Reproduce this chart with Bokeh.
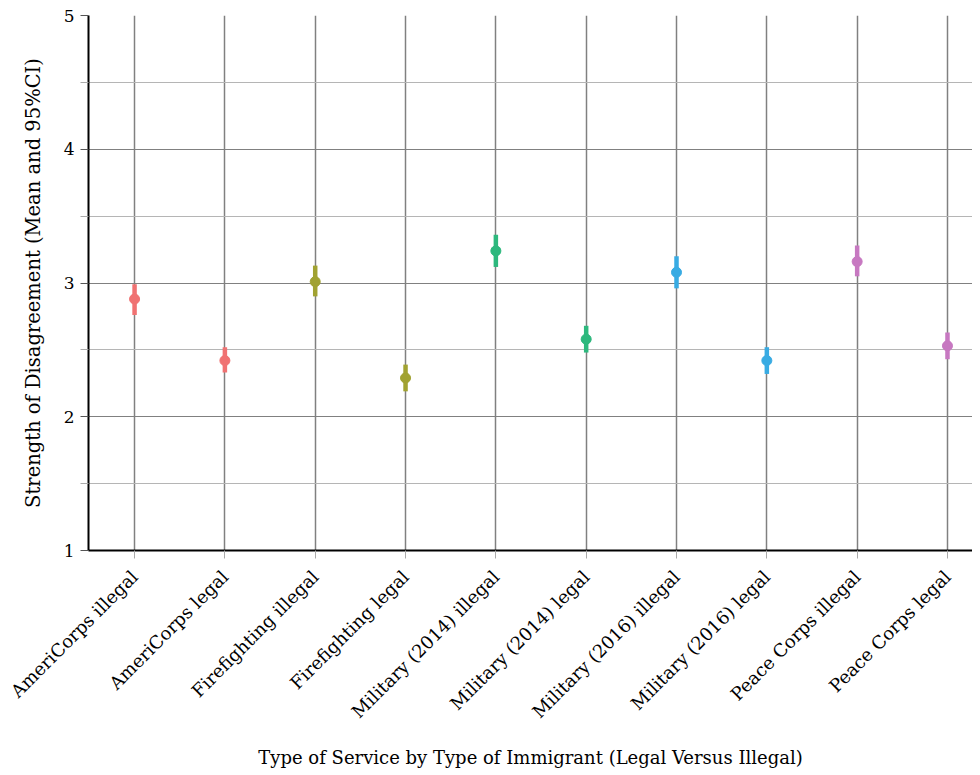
import math
from bokeh.plotting import figure
from bokeh.models import Range1d, FixedTicker, ColumnDataSource
from bokeh.embed import file_html
from bokeh.resources import INLINE

categories = ["AmeriCorps illegal", "AmeriCorps legal", "Firefighting illegal", "Firefighting legal",
              "Military (2014) illegal", "Military (2014) legal", "Military (2016) illegal",
              "Military (2016) legal", "Peace Corps illegal", "Peace Corps legal"]
means = [2.88, 2.42, 3.01, 2.29, 3.24, 2.58, 3.08, 2.42, 3.16, 2.53]
lower = [2.76, 2.33, 2.90, 2.19, 3.12, 2.48, 2.96, 2.32, 3.05, 2.43]
upper = [2.99, 2.52, 3.13, 2.39, 3.36, 2.68, 3.20, 2.52, 3.28, 2.63]
colors = ["#F07272", "#F07272", "#A1A231", "#A1A231", "#2DB87D", "#2DB87D",
          "#38ABE3", "#38ABE3", "#C778C1", "#C778C1"]
y_major = [1, 2, 3, 4, 5]
y_minor = [1.5, 2.5, 3.5, 4.5]

FONT = "DejaVu Serif"
xs = list(range(len(categories)))
src = ColumnDataSource(dict(x=xs, m=means, lo=lower, hi=upper, c=colors))

p = figure(width=972, height=770, output_backend="svg", toolbar_location=None,
           x_range=Range1d(-0.51, 9.277), y_range=Range1d(1, 5))
p.min_border_left = 88
p.min_border_top = 15
p.min_border_right = 0
p.min_border_bottom = 220
p.outline_line_color = None

p.segment(x0="x", y0="lo", x1="x", y1="hi", line_color="c", line_width=4.5, source=src)
p.scatter(x="x", y="m", size=10, marker="circle", fill_color="c", line_color="c", source=src)

# y axis
p.yaxis.ticker = FixedTicker(ticks=y_major, minor_ticks=y_minor)
p.yaxis.axis_line_color = "black"
p.yaxis.axis_line_width = 2
p.yaxis.major_tick_in = 0
p.yaxis.major_tick_out = 8
p.yaxis.major_tick_line_color = "#555555"
p.yaxis.minor_tick_in = 0
p.yaxis.minor_tick_out = 8
p.yaxis.minor_tick_line_color = "#aaaaaa"
p.yaxis.major_label_text_font = FONT
p.yaxis.major_label_text_font_size = "17px"
p.yaxis.major_label_text_color = "black"
p.yaxis.major_label_standoff = 6
p.yaxis.axis_label = "Strength of Disagreement (Mean and 95%CI)"
p.yaxis.axis_label_text_font = FONT
p.yaxis.axis_label_text_font_size = "19.5px"
p.yaxis.axis_label_text_font_style = "normal"
p.yaxis.axis_label_text_color = "black"
p.yaxis.axis_label_standoff = 16

# x axis
p.xaxis.ticker = FixedTicker(ticks=xs)
p.xaxis.major_label_overrides = {i: c for i, c in enumerate(categories)}
p.xaxis.major_label_orientation = math.pi / 4
p.xaxis.axis_line_color = "black"
p.xaxis.axis_line_width = 2
p.xaxis.major_tick_in = 0
p.xaxis.major_tick_out = 8
p.xaxis.major_tick_line_color = "#aaaaaa"
p.xaxis.minor_tick_line_color = None
p.xaxis.major_label_text_font = FONT
p.xaxis.major_label_text_font_size = "18px"
p.xaxis.major_label_text_color = "black"
p.xaxis.major_label_standoff = 15
p.xaxis.axis_label = "Type of Service by Type of Immigrant (Legal Versus Illegal)"
p.xaxis.axis_label_text_font = FONT
p.xaxis.axis_label_text_font_size = "18px"
p.xaxis.axis_label_text_font_style = "normal"
p.xaxis.axis_label_text_color = "black"
p.xaxis.axis_label_standoff = 14

# grids
p.xgrid.ticker = FixedTicker(ticks=xs)
p.xgrid.grid_line_color = "#808080"
p.xgrid.grid_line_width = 1.5
p.ygrid.ticker = FixedTicker(ticks=y_major, minor_ticks=y_minor)
p.ygrid.grid_line_color = "#808080"
p.ygrid.grid_line_width = 1.2
p.ygrid.minor_grid_line_color = "#b5b5b5"
p.ygrid.minor_grid_line_width = 1

open("out.html", "w").write(file_html(p, INLINE))
